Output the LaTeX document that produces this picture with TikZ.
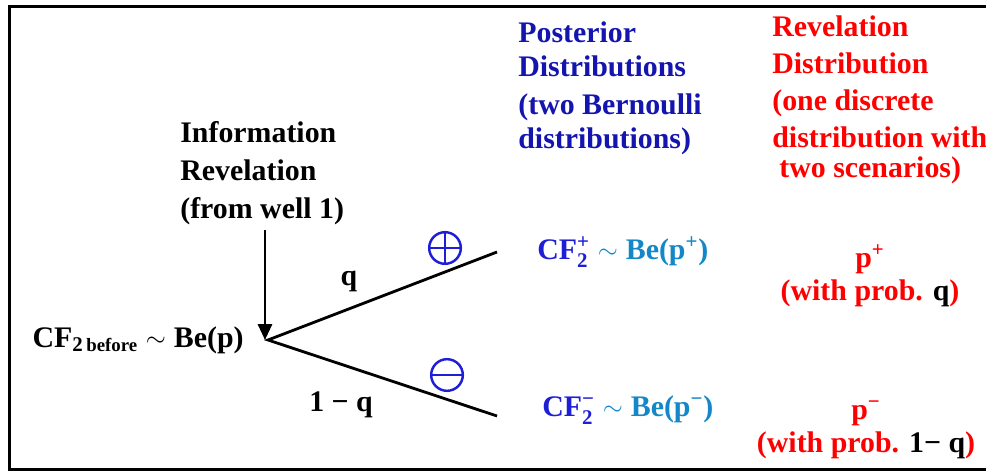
\documentclass[tikz,border=0pt]{standalone}
\usepackage{amsmath}
\usepackage{fontspec}
\setmainfont{Liberation Serif}
\usetikzlibrary{arrows.meta}
\definecolor{postblue}{RGB}{20,20,175}
\definecolor{cfblue}{RGB}{30,30,215}
\definecolor{beblue}{RGB}{20,135,200}
\definecolor{revred}{RGB}{255,0,0}
\newcommand{\smsim}{\hspace{4.5pt}\raisebox{0.5pt}{\scalebox{0.85}{$\sim$}}\hspace{4.5pt}}

\begin{document}
\begin{tikzpicture}[x=0.02cm,y=-0.02cm,
  txt/.style={inner sep=0pt,font=\fontsize{17}{21.5}\selectfont\bfseries},
  post/.style={txt,postblue,align=left,font=\fontsize{17}{19.5}\selectfont\bfseries},
  rev/.style={txt,revred,align=left,font=\fontsize{17}{21}\selectfont\bfseries},
  prob/.style={txt,revred,align=center,font=\fontsize{17}{18.5}\selectfont\bfseries},
  branch/.style={line width=1.6pt},
  sign/.style={circle,draw=cfblue,line width=1.4pt,inner sep=0pt,minimum size=18pt},
  plussign/.style={sign,path picture={\draw[cfblue,line width=1pt]
    (path picture bounding box.north) -- (path picture bounding box.south)
    (path picture bounding box.west) -- (path picture bounding box.east);}},
  minussign/.style={sign,path picture={\draw[cfblue,line width=1.2pt]
    (path picture bounding box.west) -- (path picture bounding box.east);}}]
\useasboundingbox (0,0) rectangle (986,472);
\clip (0,0) rectangle (986,472);
\draw[line width=1.7pt] (1000,6.5) -- (9.5,6.5) -- (9.5,469.5) -- (1000,469.5);

% tree
\coordinate (root) at (268,340);
\coordinate (up) at (497,252);
\coordinate (dn) at (497,416);
\coordinate (revtop) at (265,230);
\draw[branch] (up) -- (root) -- (dn);
\draw[line width=1.4pt,-{Triangle[width=8pt,length=9pt]}] (revtop) -- (root -| revtop);
\node[txt] (q) at (349,281) {q};
\node[txt] (nq) at (341,405) {1 − q};
\node[plussign] (plus) at (445,248) {};
\node[minussign] (minus) at (447,375) {};

\node[txt,align=left,anchor=west] (info) at (180,173) {Information\\Revelation\\(from well 1)};
\node[txt,anchor=east] (prior) at (244,340) {CF\textsubscript{2\,\scalebox{0.9}{before}}\smsim Be(p)};

% headings
\node[post,anchor=west] (posthd) at (518,88) {Posterior\\Distributions\\[2pt](two Bernoulli\\distributions)};
\node[rev,anchor=west] (revhd) at (772,100) {Revelation\\Distribution\\(one discrete\\distribution with\\[-4pt]\hspace{4pt}two scenarios)};

% posterior and revelation
\node[txt,anchor=west] (cfup) at (537,252) {{\color{cfblue}CF$^{\text{+}}_{\text{2}}$}{\color{beblue}\smsim Be(p\textsuperscript{+})}};
\node[txt,anchor=west] (cfdn) at (542,410) {{\color{cfblue}CF$^{\text{−}}_{\text{2}}$}{\color{beblue}\smsim Be(p\textsuperscript{−})}};
\node[prob] (pup) at (870,276) {p\textsuperscript{+}\\(with prob. {\color{black}q})};
\node[prob] (pdn) at (866,430) {p\textsuperscript{−}\\(with prob. {\color{black}1− q})};
\end{tikzpicture}
\end{document}
